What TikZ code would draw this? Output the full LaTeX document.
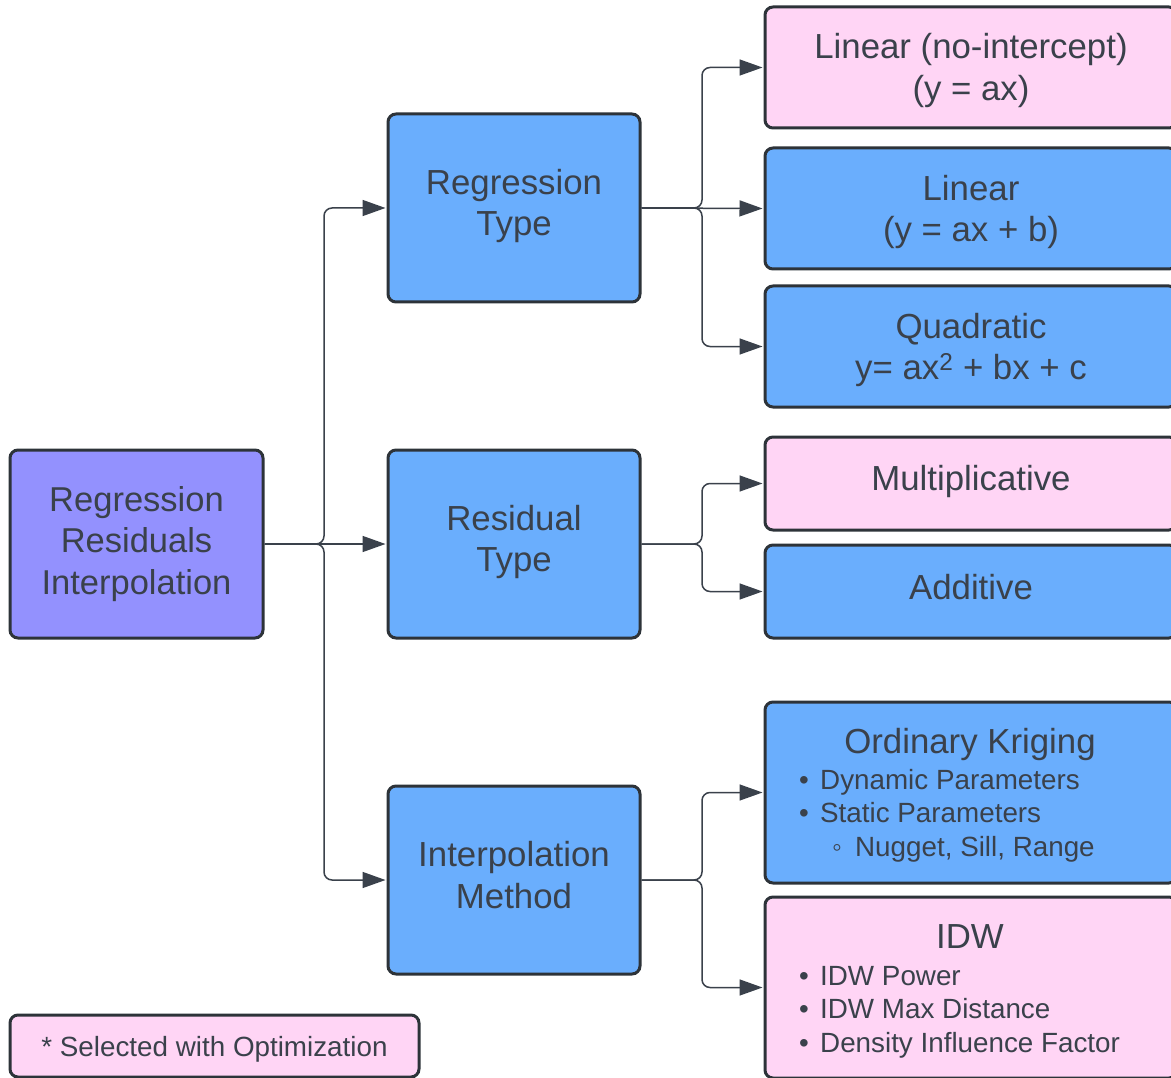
\documentclass[tikz,border=0pt]{standalone}
\usepackage{fontspec}
\setmainfont{Liberation Sans}
\usetikzlibrary{arrows.meta}
\definecolor{bluef}{HTML}{6AAEFD}
\definecolor{purplef}{HTML}{9391FE}
\definecolor{pinkf}{HTML}{FFD5F5}
\definecolor{bord}{HTML}{2D3339}
\definecolor{txt}{HTML}{3A414B}
\begin{document}
\begin{tikzpicture}[x=1pt,y=-1pt,
  box/.style={draw=bord, line width=3pt, rounded corners=8pt, inner sep=0pt, align=center, text=txt,
    font=\fontsize{34.5}{41.5}\selectfont},
  bluebox/.style={box, fill=bluef},
  pinkbox/.style={box, fill=pinkf},
  purplebox/.style={box, fill=purplef},
  midbox/.style={minimum width=252pt, minimum height=188pt},
  rbox/.style={minimum width=412pt},
  ttl/.style={text=txt, align=center, inner sep=0pt, font=\fontsize{34.8}{41.5}\selectfont},
  item/.style={text=txt, anchor=base west, inner sep=0pt, font=\fontsize{27.8}{33.5}\selectfont},
  conn/.style={draw=txt, line width=1.5pt, rounded corners=8pt, -{Triangle[length=23pt,width=16pt]}, shorten >=1pt}
]
\clip (0,0) rectangle (1171,1078);
\fill[white] (0,0) rectangle (1171,1078);

% left and middle column
\node[purplebox, minimum width=253pt, minimum height=188pt] (root) at (136.5,544) {Regression\\Residuals\\Interpolation};
\node[bluebox, midbox] (rt) at (514,208) {};
\node[ttl] at ([yshift=2pt]rt.center) {Regression\\Type};
\node[bluebox, midbox] (res) at (514,544) {};
\node[ttl] at ([yshift=2pt]res.center) {Residual\\Type};
\node[bluebox, midbox] (interp) at (514,880) {};
\node[ttl] at ([yshift=5pt]interp.center) {Interpolation\\Method};

% right column
\node[pinkbox, rbox, minimum height=121pt] (lnoi) at (971,67.5) {};
\node[ttl] at ([yshift=-3pt]lnoi.center) {Linear (no-intercept)\\(y = ax)};
\node[bluebox, rbox, minimum height=121pt] (lin) at (971,208.5) {};
\node[ttl] at ([yshift=-3.5pt]lin.center) {Linear\\(y = ax + b)};
\node[bluebox, rbox, minimum height=121pt] (quad) at (971,346.5) {};
\node[ttl] at ([yshift=-3.5pt]quad.center) {Quadratic\\y= ax\textsuperscript{2} + bx + c};
\node[pinkbox, rbox, minimum height=93pt] (mult) at (971,483.5) {};
\node[ttl] at ([yshift=2pt]mult.center) {Multiplicative};
\node[bluebox, rbox, minimum height=93pt] (add) at (971,591.5) {};
\node[ttl] at ([yshift=4pt]add.center) {Additive};
\node[bluebox, rbox, minimum height=181pt] (ok) at (971,792.5) {};
\node[ttl, anchor=base] (okt) at (970,753) {Ordinary Kriging};
\node[item] (ok1) at (799,789) {\makebox[21pt][l]{•}Dynamic Parameters};
\node[item] (ok2) at (799,822.5) {\makebox[21pt][l]{•}Static Parameters};
\node[item] (ok3) at (832,856) {\makebox[23pt][l]{◦}Nugget, Sill, Range};
\node[pinkbox, rbox, minimum height=181pt] (idw) at (971,987.5) {};
\node[ttl, anchor=base] (idwt) at (970,948) {IDW};
\node[item] (idw1) at (799,985) {\makebox[21pt][l]{•}IDW Power};
\node[item] (idw2) at (799,1018.5) {\makebox[21pt][l]{•}IDW Max Distance};
\node[item] (idw3) at (799,1052) {\makebox[21pt][l]{•}Density Influence Factor};

% legend
\node[pinkbox, minimum width=409pt, minimum height=62pt] (leg) at (214.5,1046) {};
\node[text=txt, inner sep=0pt, font=\fontsize{27.8}{33}\selectfont] at ([yshift=-3pt]leg.center) {* Selected with Optimization};

% trunk coordinates
\coordinate (t1) at (324,0);
\coordinate (t2) at (702,0);

% connectors
\draw[conn] (root.east) -- (root.east -| t1) |- (rt.west);
\draw[conn] (root.east) -- (res.west);
\draw[conn] (root.east) -- (root.east -| t1) |- (interp.west);

\draw[conn] (rt.east) -- (rt.east -| t2) |- (lnoi.west);
\draw[conn] (rt.east) -- (lin.west);
\draw[conn] (rt.east) -- (rt.east -| t2) |- (quad.west);

\draw[conn] (res.east) -- (res.east -| t2) |- (mult.west);
\draw[conn] (res.east) -- (res.east -| t2) |- (add.west);

\draw[conn] (interp.east) -- (interp.east -| t2) |- (ok.west);
\draw[conn] (interp.east) -- (interp.east -| t2) |- (idw.west);
\end{tikzpicture}
\end{document}
